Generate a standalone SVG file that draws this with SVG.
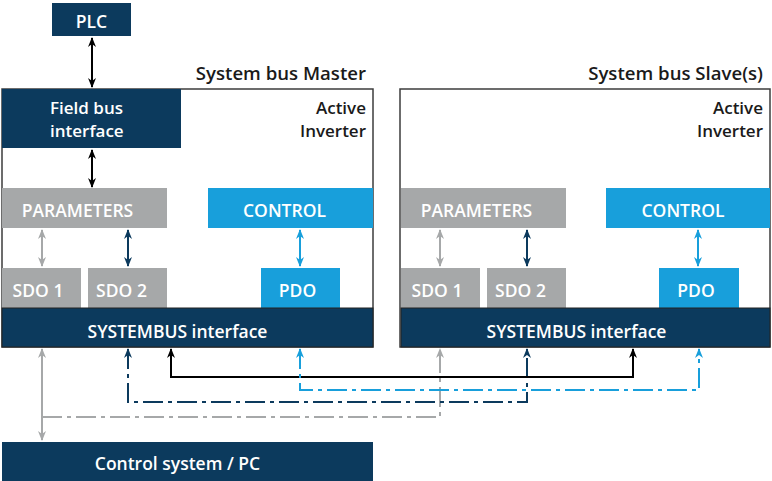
<svg xmlns="http://www.w3.org/2000/svg" width="772" height="481" viewBox="0 0 772 481">
<defs>
<style>
.t{font-family:"Open Sans","Noto Sans","Liberation Sans",sans-serif;font-weight:600;font-size:17.5px;fill:#fff}
.h{font-size:18.6px}
.two{font-size:17px}
.k{fill:#1a1a1a}
.navy{fill:#0c3a5d}
.gray{fill:#a6a8a9}
.blue{fill:#189fdb}
.frame{fill:#fff;stroke:#3c3c3c;stroke-width:1.5}
.c{fill:none;stroke-width:2}
.dd{stroke-dasharray:20 5 4 5}
</style>
<marker id="aK" markerWidth="10" markerHeight="10" refX="9" refY="5" orient="auto-start-reverse" markerUnits="userSpaceOnUse"><path d="M0,1 L10,5 L0,9 L3,5 z" fill="#000"/></marker>
<marker id="aG" markerWidth="10" markerHeight="10" refX="9" refY="5" orient="auto-start-reverse" markerUnits="userSpaceOnUse"><path d="M0,1 L10,5 L0,9 L3,5 z" fill="#a6a8a9"/></marker>
<marker id="aN" markerWidth="10" markerHeight="10" refX="9" refY="5" orient="auto-start-reverse" markerUnits="userSpaceOnUse"><path d="M0,1 L10,5 L0,9 L3,5 z" fill="#0c3a5d"/></marker>
<marker id="aB" markerWidth="10" markerHeight="10" refX="9" refY="5" orient="auto-start-reverse" markerUnits="userSpaceOnUse"><path d="M0,1 L10,5 L0,9 L3,5 z" fill="#189fdb"/></marker>
</defs>

<g id="plc"><rect class="navy" x="52" y="3" width="79" height="33"/><text class="t" x="91.5" y="28" text-anchor="middle">PLC</text></g>

<g id="master">
<text class="t k h" x="366" y="80" text-anchor="end">System bus Master</text>
<rect class="frame" x="2" y="89" width="371" height="258"/>
<text class="t k two" x="366" y="114" text-anchor="end">Active</text>
<text class="t k two" x="366" y="137" text-anchor="end">Inverter</text>
</g>
<g id="m-fieldbus"><rect class="navy" x="2" y="89" width="179" height="59"/><text class="t two" x="50" y="114">Field bus</text><text class="t two" x="50" y="137">interface</text></g>
<g id="m-parameters"><rect class="gray" x="2" y="188" width="165" height="40"/><text class="t" x="77.5" y="217" text-anchor="middle">PARAMETERS</text></g>
<g id="m-control"><rect class="blue" x="208" y="188" width="165" height="40"/><text class="t" x="284.5" y="217" text-anchor="middle">CONTROL</text></g>
<g id="m-sdo1"><rect class="gray" x="2" y="268" width="79" height="40"/><text class="t" x="38" y="297" text-anchor="middle">SDO 1</text></g>
<g id="m-sdo2"><rect class="gray" x="88" y="268" width="79" height="40"/><text class="t" x="121.5" y="297" text-anchor="middle">SDO 2</text></g>
<g id="m-pdo"><rect class="blue" x="261" y="268" width="79" height="40"/><text class="t" x="297.5" y="297" text-anchor="middle">PDO</text></g>
<g id="m-systembus"><rect class="navy" x="2" y="308" width="371" height="39" stroke="#222" stroke-width="1"/><text class="t" x="177.5" y="338" text-anchor="middle">SYSTEMBUS interface</text></g>

<g id="slave">
<text class="t k h" x="763" y="80" text-anchor="end">System bus Slave(s)</text>
<rect class="frame" x="400" y="89" width="370" height="258"/>
<text class="t k two" x="763" y="114" text-anchor="end">Active</text>
<text class="t k two" x="763" y="137" text-anchor="end">Inverter</text>
</g>
<g id="s-parameters"><rect class="gray" x="401" y="188" width="165" height="40"/><text class="t" x="476.5" y="217" text-anchor="middle">PARAMETERS</text></g>
<g id="s-control"><rect class="blue" x="606" y="188" width="164" height="40"/><text class="t" x="683" y="217" text-anchor="middle">CONTROL</text></g>
<g id="s-sdo1"><rect class="gray" x="401" y="268" width="79" height="40"/><text class="t" x="437" y="297" text-anchor="middle">SDO 1</text></g>
<g id="s-sdo2"><rect class="gray" x="487" y="268" width="79" height="40"/><text class="t" x="520.5" y="297" text-anchor="middle">SDO 2</text></g>
<g id="s-pdo"><rect class="blue" x="659" y="268" width="80" height="40"/><text class="t" x="696" y="297" text-anchor="middle">PDO</text></g>
<g id="s-systembus"><rect class="navy" x="401" y="308" width="369" height="39" stroke="#222" stroke-width="1"/><text class="t" x="576.5" y="338" text-anchor="middle">SYSTEMBUS interface</text></g>

<g id="pc"><rect class="navy" x="2" y="442" width="371" height="39"/><text class="t" x="177.5" y="470" text-anchor="middle">Control system / PC</text></g>

<g id="connectors">
<path class="c" stroke="#000" d="M92,38 V87" marker-start="url(#aK)" marker-end="url(#aK)"/>
<path class="c" stroke="#000" d="M92,150 V187" marker-start="url(#aK)" marker-end="url(#aK)"/>
<path class="c" stroke="#a6a8a9" d="M42,230 V266" marker-start="url(#aG)" marker-end="url(#aG)"/>
<path class="c" stroke="#0c3a5d" d="M128,230 V266" marker-start="url(#aN)" marker-end="url(#aN)"/>
<path class="c" stroke="#189fdb" d="M300,230 V266" marker-start="url(#aB)" marker-end="url(#aB)"/>
<path class="c" stroke="#a6a8a9" d="M440,230 V266" marker-start="url(#aG)" marker-end="url(#aG)"/>
<path class="c" stroke="#0c3a5d" d="M527,230 V266" marker-start="url(#aN)" marker-end="url(#aN)"/>
<path class="c" stroke="#189fdb" d="M698,230 V266" marker-start="url(#aB)" marker-end="url(#aB)"/>

<path class="c" stroke="#a6a8a9" d="M42,349 V440" marker-start="url(#aG)" marker-end="url(#aG)"/>
<path class="c dd" stroke="#a6a8a9" d="M42,417 H440 V349" marker-end="url(#aG)"/>
<path class="c dd" stroke="#0c3a5d" d="M128,349 V402 H527 V349" marker-start="url(#aN)" marker-end="url(#aN)"/>
<path class="c" stroke="#000" d="M171,349 V377 H633 V349" marker-start="url(#aK)" marker-end="url(#aK)"/>
<path class="c dd" stroke="#189fdb" d="M300,349 V390 H699 V349" marker-start="url(#aB)" marker-end="url(#aB)"/>
</g>
</svg>
